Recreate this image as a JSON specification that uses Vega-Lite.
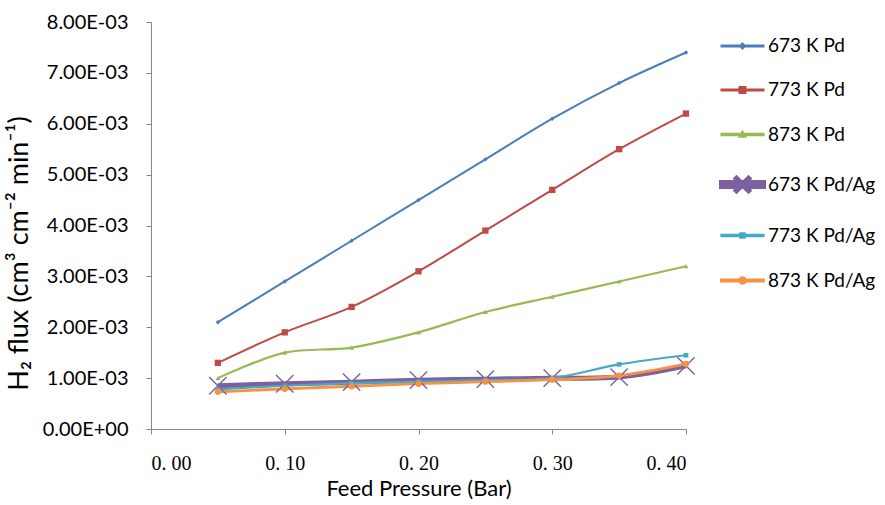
{
  "$schema": "https://vega.github.io/schema/vega-lite/v6.json",
  "autosize": "none",
  "width": 535,
  "height": 407,
  "padding": {"left": 151, "top": 22, "right": 199, "bottom": 76},
  "background": "white",
  "config": {"view": {"stroke": null}, "font": "Lato"},
  "data": {"values": [
    {"series": "673 K Pd", "p": 0.05, "flux": 0.0021},
    {"series": "673 K Pd", "p": 0.10, "flux": 0.0029},
    {"series": "673 K Pd", "p": 0.15, "flux": 0.0037},
    {"series": "673 K Pd", "p": 0.20, "flux": 0.0045},
    {"series": "673 K Pd", "p": 0.25, "flux": 0.0053},
    {"series": "673 K Pd", "p": 0.30, "flux": 0.0061},
    {"series": "673 K Pd", "p": 0.35, "flux": 0.0068},
    {"series": "673 K Pd", "p": 0.40, "flux": 0.0074},
    {"series": "773 K Pd", "p": 0.05, "flux": 0.0013},
    {"series": "773 K Pd", "p": 0.10, "flux": 0.0019},
    {"series": "773 K Pd", "p": 0.15, "flux": 0.0024},
    {"series": "773 K Pd", "p": 0.20, "flux": 0.0031},
    {"series": "773 K Pd", "p": 0.25, "flux": 0.0039},
    {"series": "773 K Pd", "p": 0.30, "flux": 0.0047},
    {"series": "773 K Pd", "p": 0.35, "flux": 0.0055},
    {"series": "773 K Pd", "p": 0.40, "flux": 0.0062},
    {"series": "873 K Pd", "p": 0.05, "flux": 0.0010},
    {"series": "873 K Pd", "p": 0.10, "flux": 0.0015},
    {"series": "873 K Pd", "p": 0.15, "flux": 0.0016},
    {"series": "873 K Pd", "p": 0.20, "flux": 0.0019},
    {"series": "873 K Pd", "p": 0.25, "flux": 0.0023},
    {"series": "873 K Pd", "p": 0.30, "flux": 0.0026},
    {"series": "873 K Pd", "p": 0.35, "flux": 0.0029},
    {"series": "873 K Pd", "p": 0.40, "flux": 0.0032},
    {"series": "673 K Pd/Ag", "p": 0.05, "flux": 0.00085},
    {"series": "673 K Pd/Ag", "p": 0.10, "flux": 0.00089},
    {"series": "673 K Pd/Ag", "p": 0.15, "flux": 0.00092},
    {"series": "673 K Pd/Ag", "p": 0.20, "flux": 0.00096},
    {"series": "673 K Pd/Ag", "p": 0.25, "flux": 0.00098},
    {"series": "673 K Pd/Ag", "p": 0.30, "flux": 0.00100},
    {"series": "673 K Pd/Ag", "p": 0.35, "flux": 0.00102},
    {"series": "673 K Pd/Ag", "p": 0.40, "flux": 0.00124},
    {"series": "773 K Pd/Ag", "p": 0.05, "flux": 0.00078},
    {"series": "773 K Pd/Ag", "p": 0.10, "flux": 0.00085},
    {"series": "773 K Pd/Ag", "p": 0.15, "flux": 0.00090},
    {"series": "773 K Pd/Ag", "p": 0.20, "flux": 0.00093},
    {"series": "773 K Pd/Ag", "p": 0.25, "flux": 0.00096},
    {"series": "773 K Pd/Ag", "p": 0.30, "flux": 0.00100},
    {"series": "773 K Pd/Ag", "p": 0.35, "flux": 0.00127},
    {"series": "773 K Pd/Ag", "p": 0.40, "flux": 0.00145},
    {"series": "873 K Pd/Ag", "p": 0.05, "flux": 0.00073},
    {"series": "873 K Pd/Ag", "p": 0.10, "flux": 0.00079},
    {"series": "873 K Pd/Ag", "p": 0.15, "flux": 0.00084},
    {"series": "873 K Pd/Ag", "p": 0.20, "flux": 0.00089},
    {"series": "873 K Pd/Ag", "p": 0.25, "flux": 0.00093},
    {"series": "873 K Pd/Ag", "p": 0.30, "flux": 0.00097},
    {"series": "873 K Pd/Ag", "p": 0.35, "flux": 0.00105},
    {"series": "873 K Pd/Ag", "p": 0.40, "flux": 0.00128}
  ]},
  "encoding": {
    "x": {
      "field": "p", "type": "quantitative",
      "scale": {"domain": [0, 0.4], "nice": false},
      "axis": {
        "values": [0, 0.1, 0.2, 0.3, 0.4],
        "labelExpr": "replace(format(datum.value, '.2f'), '.', '. ')",
        "labelFont": "Liberation Serif", "labelFontSize": 20, "labelColor": "#000",
        "labelPadding": 19,
        "title": "Feed Pressure (Bar)", "titleFont": "Lato", "titleFontSize": 22,
        "titleFontWeight": "normal", "titleColor": "#000", "titlePadding": 5,
        "grid": false, "domainColor": "#868686", "tickColor": "#868686", "tickSize": 5
      }
    },
    "y": {
      "field": "flux", "type": "quantitative",
      "scale": {"domain": [0, 0.008], "nice": false},
      "axis": {
        "values": [0, 0.001, 0.002, 0.003, 0.004, 0.005, 0.006, 0.007, 0.008],
        "labelExpr": "datum.value == 0 ? '0.00E+00' : format(datum.value * 1000, '.2f') + 'E-03'",
        "labelFont": "Lato", "labelFontSize": 20, "labelColor": "#000",
        "labelPadding": 18,
        "title": "H₂ flux (cm³ cm⁻² min⁻¹)", "titleFont": "Lato", "titleFontSize": 27,
        "titleFontWeight": "normal", "titleColor": "#000",
        "titleX": -118, "titleY": 231, "titleAngle": -90, "titleBaseline": "bottom", "titleAlign": "center",
        "grid": false, "domainColor": "#868686", "tickColor": "#868686", "tickSize": 5
      }
    },
    "color": {
      "field": "series", "type": "nominal",
      "scale": {
        "domain": ["673 K Pd", "773 K Pd", "873 K Pd", "673 K Pd/Ag", "773 K Pd/Ag", "873 K Pd/Ag"],
        "range": ["#4A7EBB", "#BE4B48", "#98B954", "#7D60A0", "#46AAC5", "#F69240"]
      },
      "legend": {
        "title": null, "orient": "none", "legendX": 579, "legendY": 13,
        "direction": "vertical",
        "symbolSize": 400, "rowPadding": 23, "labelOffset": 13,
        "labelFont": "Lato", "labelFontSize": 19, "labelColor": "#000",
        "symbolStrokeWidth": 1,
        "encode": {
          "symbols": {
            "update": {
              "shape": {"signal": "datum.value == '673 K Pd' ? 'M-2.1,-0.06H2.1V0.06H-2.1Z M0,-0.25L0.25,0L0,0.25L-0.25,0Z' : datum.value == '773 K Pd' ? 'M-2.1,-0.06H2.1V0.06H-2.1Z M-0.3,-0.3H0.3V0.3H-0.3Z' : datum.value == '873 K Pd' ? 'M-2.1,-0.06H2.1V0.06H-2.1Z M0,-0.28L0.28,0.22H-0.28Z' : datum.value == '673 K Pd/Ag' ? 'M-2.1,-0.2H2.1V0.2H-2.1Z M-0.6,-0.63L0.63,0.6L0.6,0.63L-0.63,-0.6Z M-0.63,0.6L0.6,-0.63L0.63,-0.6L-0.6,0.63Z' : datum.value == '773 K Pd/Ag' ? 'M-2.1,-0.06H2.1V0.06H-2.1Z M-0.22,-0.22H0.22V0.22H-0.22Z' : 'M-2.1,-0.06H2.1V0.06H-2.1Z M0.28,0A0.28,0.28 0 1,1 -0.28,0A0.28,0.28 0 1,1 0.28,0Z'"},
              "fill": {"scale": "color", "field": "value"},
              "stroke": {"scale": "color", "field": "value"},
              "strokeWidth": {"value": 1},
              "opacity": {"value": 1}
            }
          }
        }
      }
    }
  },
  "layer": [
    {
      "mark": {"type": "line", "interpolate": "catmull-rom"},
      "encoding": {
        "strokeWidth": {
          "field": "series", "type": "nominal",
          "scale": {
            "type": "ordinal",
            "domain": ["673 K Pd", "773 K Pd", "873 K Pd", "673 K Pd/Ag", "773 K Pd/Ag", "873 K Pd/Ag"],
            "range": [2, 2, 2.2, 5, 2.2, 2.8]
          },
          "legend": null
        }
      }
    },
    {
      "transform": [{"filter": "datum.series == '673 K Pd'"}],
      "mark": {"type": "point", "shape": "diamond", "size": 20, "filled": true, "opacity": 1}
    },
    {
      "transform": [{"filter": "datum.series == '773 K Pd'"}],
      "mark": {"type": "point", "shape": "square", "size": 40, "filled": true, "opacity": 1}
    },
    {
      "transform": [{"filter": "datum.series == '873 K Pd'"}],
      "mark": {"type": "point", "shape": "triangle-up", "size": 24, "filled": true, "opacity": 1}
    },
    {
      "transform": [{"filter": "datum.series == '673 K Pd/Ag'"}],
      "mark": {"type": "point", "shape": "M-1,-1L1,1M-1,1L1,-1", "size": 300, "filled": false, "strokeWidth": 1.4, "opacity": 1}
    },
    {
      "transform": [{"filter": "datum.series == '773 K Pd/Ag'"}],
      "mark": {"type": "point", "shape": "square", "size": 22, "filled": true, "opacity": 1}
    },
    {
      "transform": [{"filter": "datum.series == '873 K Pd/Ag'"}],
      "mark": {"type": "point", "shape": "circle", "size": 40, "filled": true, "opacity": 1}
    }
  ]
}
